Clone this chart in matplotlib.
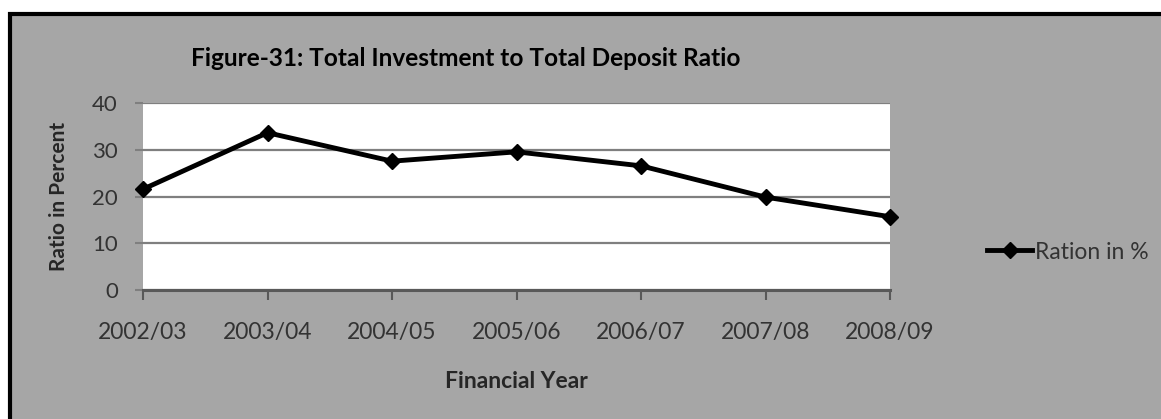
import matplotlib.pyplot as plt
from matplotlib.patches import Rectangle

years = ["2002/03", "2003/04", "2004/05", "2005/06", "2006/07", "2007/08", "2008/09"]
ratio = [21.6, 33.7, 27.6, 29.6, 26.6, 19.9, 15.7]
y_ticks = [0, 10, 20, 30, 40]

plt.rcParams['font.family'] = ['Lato', 'DejaVu Sans']

fig = plt.figure(figsize=(11.61, 4.19), dpi=100, facecolor="white")

# grey chart panel with black frame (runs past right and bottom edges)
fig.patches.append(Rectangle((9.5 / 1161, -0.05), 1.1, (419 - 14.5) / 419 + 0.05,
                             transform=fig.transFigure, facecolor="#a6a6a6",
                             edgecolor="black", linewidth=3, zorder=-10))

ax = fig.add_axes([143 / 1161, 129 / 419, 747 / 1161, 186.7 / 419])
ax.set_zorder(1)
ax.set_facecolor("white")

x = list(range(len(years)))
ax.plot(x, ratio, color="black", linewidth=3.5, marker="D", markersize=8.5,
        label="Ration in %", zorder=3, clip_on=False)

ax.set_xlim(0, len(years) - 1)
ax.set_ylim(0, 40)
ax.set_xticks(x)
ax.set_xticklabels(years)
ax.set_yticks(y_ticks)
ax.grid(axis="y", color="#7f7f7f", linewidth=1.6)
ax.set_axisbelow(True)

for side in ["left", "right", "top"]:
    ax.spines[side].set_visible(False)
ax.spines["bottom"].set_color("#595959")
ax.spines["bottom"].set_linewidth(2.2)

ax.tick_params(axis="x", direction="out", length=7, width=1.5, color="#595959",
               pad=16, labelsize=16.5, labelcolor="#333333")
ax.tick_params(axis="y", direction="out", length=6, width=1.5, color="#7f7f7f",
               pad=12, labelsize=16, labelcolor="#333333")

ax.set_xlabel("Financial Year", fontsize=16.5, fontweight="bold", color="#262626")
ax.set_ylabel("Ratio in Percent", fontsize=15, fontweight="bold", color="#262626")
ax.xaxis.label.set_va("center")
ax.yaxis.label.set_va("center")
ax.xaxis.set_label_coords(0.5, (290 - 381) / 186.7)
ax.yaxis.set_label_coords((59 - 143) / 747, 0.5)

fig.text(466 / 1161, 1 - 59 / 419, "Figure-31: Total Investment to Total Deposit Ratio",
         fontsize=17.6, fontweight="bold", ha="center", va="center", color="black")

ax.legend(loc="center left", bbox_to_anchor=(966 / 1161, 1 - 252 / 419),
          bbox_transform=fig.transFigure, frameon=False, fontsize=16.5,
          handlelength=2.0, handletextpad=0.1, labelcolor="#333333")

fig.savefig("out.png", dpi=100, facecolor=fig.get_facecolor())
